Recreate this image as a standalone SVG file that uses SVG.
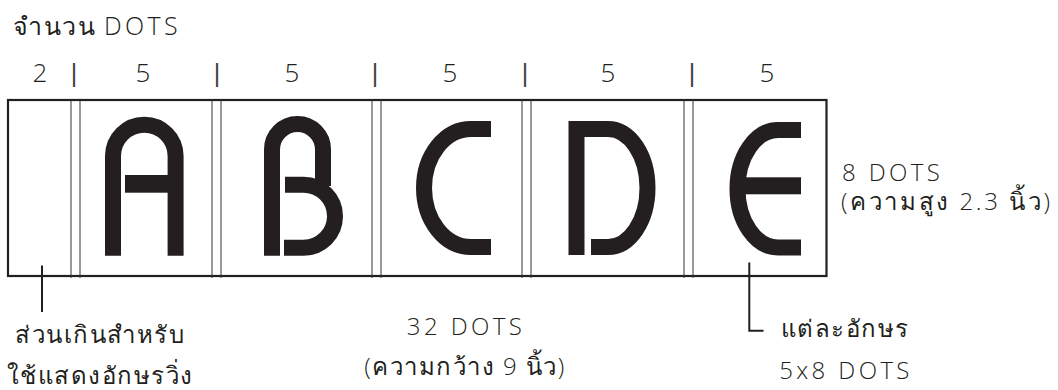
<svg xmlns="http://www.w3.org/2000/svg" width="1058" height="390" viewBox="0 0 1058 390">
<style>
text{font-family:"Open Sans","Liberation Sans",sans-serif;font-weight:300;fill:#231f20;letter-spacing:1.5px}
.t22{font-size:24px}
.ttl{font-size:25px}
.lat{letter-spacing:3.4px}
.t25{font-size:26px;letter-spacing:0}
.pipe{font-family:"Liberation Sans",sans-serif;font-weight:400;font-size:25px;letter-spacing:0;text-anchor:middle;fill:#444}
.mid{text-anchor:middle}
.glyph{fill:none;stroke:#231f20;stroke-width:16;stroke-linejoin:miter}
.div{stroke:#333;stroke-width:1}
.conn{fill:none;stroke:#231f20;stroke-width:2}
</style>
<rect width="1058" height="390" fill="#fff"/>
<g id="title">
<text class="ttl" x="13" y="35">จำนวน <tspan class="lat">DOTS</tspan></text>
</g>
<g id="dot-counts">
<text class="t25 mid" x="40" y="82">2</text>
<text class="pipe" x="74" y="82">|</text>
<text class="t25 mid" x="143" y="82">5</text>
<text class="pipe" x="217" y="82">|</text>
<text class="t25 mid" x="292" y="82">5</text>
<text class="pipe" x="375" y="82">|</text>
<text class="t25 mid" x="450" y="82">5</text>
<text class="pipe" x="525" y="82">|</text>
<text class="t25 mid" x="608" y="82">5</text>
<text class="pipe" x="692" y="82">|</text>
<text class="t25 mid" x="767" y="82">5</text>
</g>
<g id="frame">
<rect x="8" y="100" width="818.5" height="176" fill="none" stroke="#231f20" stroke-width="2.2"/>
<line class="div" x1="71" y1="100" x2="71" y2="278"/>
<line class="div" x1="80" y1="100" x2="80" y2="278"/>
<line class="div" x1="212" y1="100" x2="212" y2="278"/>
<line class="div" x1="221" y1="100" x2="221" y2="278"/>
<line class="div" x1="372" y1="100" x2="372" y2="278"/>
<line class="div" x1="381" y1="100" x2="381" y2="278"/>
<line class="div" x1="522" y1="100" x2="522" y2="278"/>
<line class="div" x1="531" y1="100" x2="531" y2="278"/>
<line class="div" x1="684" y1="100" x2="684" y2="278"/>
<line class="div" x1="693" y1="100" x2="693" y2="278"/>
</g>
<g id="letter-A">
<path class="glyph" d="M113,255.7 V156 A31.3,31.3 0 0 1 175.6,156 V255.7"/>
<rect x="125" y="175" width="45" height="17.7" fill="#231f20"/>
</g>
<g id="letter-B">
<path class="glyph" d="M272,255.7 V149.5 A25.5,25.5 0 0 1 323,149.5 V186"/>
<path class="glyph" d="M285,184.7 H303.5 A31.5,31.5 0 0 1 303.5,247.7 H284"/>
</g>
<g id="letter-C">
<path class="glyph" d="M491,129 H471 A47,59 0 0 0 471,247 H491"/>
</g>
<g id="letter-D">
<path class="glyph" d="M576.5,255 V129 H608 A39.5,59 0 0 1 608,247 H591"/>
</g>
<g id="letter-E">
<path class="glyph" d="M801,130 H778 A40.5,58.7 0 0 0 778,247.5 H801"/>
<rect x="735" y="177.3" width="66" height="17" fill="#231f20"/>
</g>
<g id="height-label">
<text class="t22 lat" x="842" y="181">8 DOTS</text>
<text class="t22" x="841" y="210" style="letter-spacing:2.6px">(ความสูง 2.3 นิ้ว)</text>
</g>
<g id="overflow-label">
<text class="t22 mid" x="100" y="343">ส่วนเกินสำหรับ</text>
<text class="t22 mid" x="100" y="384">ใช้แสดงอักษรวิ่ง</text>
</g>
<g id="width-label">
<text class="t22 lat mid" x="466" y="335">32 DOTS</text>
<text class="t22 mid" x="465" y="375">(ความกว้าง 9 นิ้ว)</text>
</g>
<g id="char-label">
<text class="t22 mid" x="845" y="337">แต่ละอักษร</text>
<text class="t22 lat mid" x="846" y="379">5x8 DOTS</text>
</g>
<g id="connectors">
<line class="conn" x1="42" y1="265.5" x2="42" y2="312"/>
<path class="conn" d="M749.3,262.5 V330.7 H763.5"/>
</g>
</svg>
